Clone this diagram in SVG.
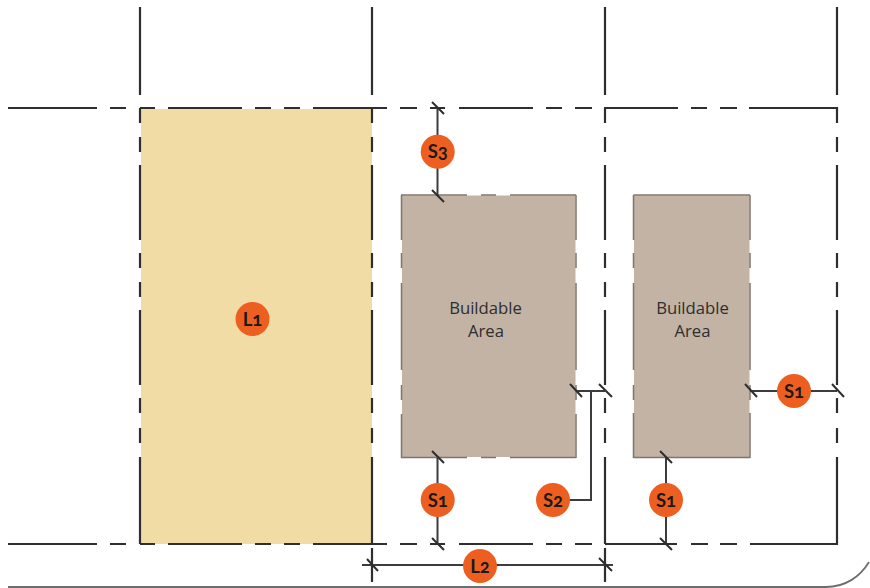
<svg xmlns="http://www.w3.org/2000/svg" width="870" height="588" viewBox="0 0 870 588">
<style>
.lot{fill:none;stroke:#2e2e2e;stroke-width:2.2;stroke-linejoin:miter}
.edge{fill:none;stroke:#7d766e;stroke-width:1.5}
.dim{fill:none;stroke:#3c3c3c;stroke-width:2}
.tick{fill:none;stroke:#2e2e2e;stroke-width:2}
.road{fill:none;stroke:#6e6e6e;stroke-width:1.8}
.badge{fill:#ed5f21}
.blabel{font-family:"Lato","Open Sans",sans-serif;font-weight:700;font-size:18.500px;fill:#1a1a1a;text-anchor:middle;font-variant-numeric:oldstyle-nums;font-feature-settings:"onum"}
.area{font-family:"Open Sans","Noto Sans",sans-serif;font-size:16.700px;fill:#2e2e2e;text-anchor:middle}
</style>
<rect width="870" height="588" fill="#fff"/>
<g id="lot-shaded"><rect x="141" y="109" width="231" height="435" fill="#f1dca6"/></g>
<g id="buildable-1">
<rect x="402" y="195.500" width="173.500" height="261.500" fill="#c2b3a5"/>
<path class="edge" d="M401 195H467M481 195H496M510 195H576M401 457.500H467M481 457.500H496M510 457.500H576M401.500 195V240M401.500 253V268M401.500 283V370M401.500 385V400M401.500 414V458M576 195V240M576 253V268M576 283V370M576 385V400M576 414V458"/>
<text class="area" x="485.500" y="313.500">Buildable</text>
<text class="area" x="486" y="337">Area</text>
</g>
<g id="buildable-2">
<rect x="634" y="195.500" width="115.500" height="261.500" fill="#c2b3a5"/>
<path class="edge" d="M633.500 195H750M633.500 457.500H750M633.500 195V240M633.500 253V268M633.500 283V370M633.500 385V400M633.500 413V458M750 195V240M750 253V268M750 283V370M750 385V400M750 413V458"/>
<text class="area" x="692.500" y="313.500">Buildable</text>
<text class="area" x="692.500" y="337">Area</text>
</g>
<g id="lot-lines">
<path class="lot" d="M8 108H97M110 108H126M140 108H155M168 108H242M255 108H271M284 108H300M313 108H387M400 108H417M430 108H445M459 108H533M546 108H562M575 108H592M604 108H678M691 108H707M720 108H737M749 108H837V123"/>
<path class="lot" d="M8 544H97M110 544H126M140 544H155M168 544H242M255 544H271M284 544H300M313 544H387M400 544H417M430 544H445M459 544H533M546 544H562M575 544H592M605 544H677M691 544H708M720 544H737M750 544H837V457"/>
<path class="lot" d="M140 7V95M140 108V123M140 137V152M140 165V240M140 253V268M140 282V297M140 310V385M140 398V413M140 428V443M140 457V544"/>
<path class="lot" d="M372 7V95M372 108V123M372 137V152M372 165V240M372 253V268M372 282V297M372 310V385M372 398V413M372 428V443M372 457V544M372 548V582"/>
<path class="lot" d="M605 7V95M605 108V123M605 137V152M605 165V240M605 253V268M605 282V297M605 310V385M605 398V413M605 428V443M605 457V544M605 548V582"/>
<path class="lot" d="M837 7V95M837 137V152M837 165V240M837 253V268M837 282V297M837 310V385M837 398V413M837 428V443"/>
</g>
<g id="road"><path class="road" d="M8 587H826C845 587 860 577 869 562"/></g>
<g id="connectors">
<path class="dim" d="M437.500 108V195M437.500 458V544M666 458V544M362 565H613M576 391H605M591 391V500H553M750 391H837"/>
<path class="tick" d="M432 102L444 114M432 190L444 202M432 451L444 463M432 538L444 550M660 451L672 463M660 538L672 550M367 559L378 571M599 558L612 571M570 384L582 397M599 384L612 397M745 384L757 397M832 384L844 397"/>
</g>
<g id="badge-l1"><circle class="badge" cx="252.500" cy="319" r="17"/><text class="blabel" x="252.500" y="325.500">L1</text></g>
<g id="badge-s3"><circle class="badge" cx="437.700" cy="151.700" r="17"/><text class="blabel" x="437.700" y="157.500">S3</text></g>
<g id="badge-s1-a"><circle class="badge" cx="437.700" cy="500" r="17"/><text class="blabel" x="437.700" y="506.500">S1</text></g>
<g id="badge-s2"><circle class="badge" cx="553" cy="500" r="17"/><text class="blabel" x="553" y="506.500">S2</text></g>
<g id="badge-s1-b"><circle class="badge" cx="666" cy="500" r="17"/><text class="blabel" x="666" y="506.500">S1</text></g>
<g id="badge-s1-c"><circle class="badge" cx="794" cy="391" r="17"/><text class="blabel" x="794" y="397.500">S1</text></g>
<g id="badge-l2"><circle class="badge" cx="480" cy="566" r="17"/><text class="blabel" x="480" y="572.500">L2</text></g>
</svg>
